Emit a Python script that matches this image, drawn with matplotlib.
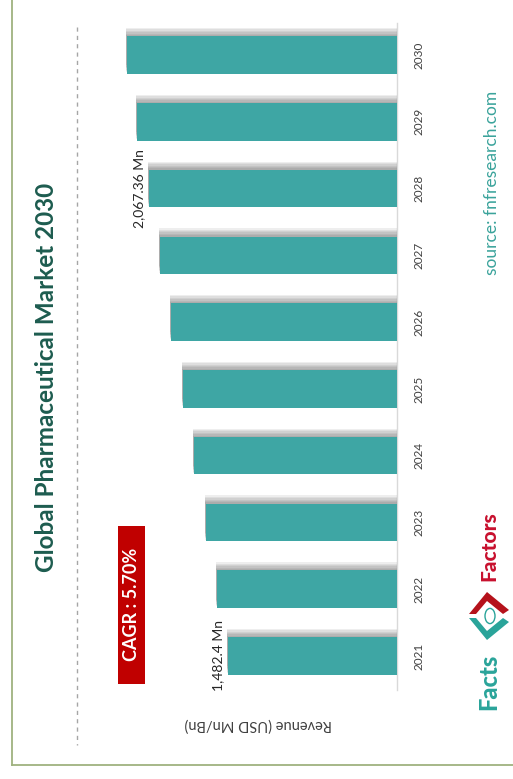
import matplotlib
matplotlib.use("Agg")
import matplotlib.pyplot as plt
import matplotlib.patheffects as pe
from matplotlib.patches import Rectangle, Polygon, Circle

plt.rcParams['font.family'] = ['Lato', 'DejaVu Sans']

years = ['2021', '2022', '2023', '2024', '2025', '2026', '2027', '2028', '2029', '2030']
revenue = [1482.4, 1564, 1645, 1734, 1815, 1904, 1986, 2067.36, 2156, 2230]
labels = {'2021': '1,482.4 Mn', '2028': '2,067.36 Mn'}
title = 'Global Pharmaceutical Market 2030'
cagr = 'CAGR : 5.70%'
axis_label = 'Revenue (USD Mn/Bn)'
source = 'source: fnfresearch.com'

W, H = 513, 779
fig = plt.figure(figsize=(W / 100, H / 100), dpi=100)
fig.patch.set_facecolor('white')

def fx(px):
    return px / W

def fy(py):
    return 1 - py / H

# main axes: baseline on the right, bars growing leftwards
ax = fig.add_axes([fx(75), fy(690), fx(397) - fx(75), fy(23) - fy(690)])
pos = list(range(len(years)))
bars = ax.barh(pos, revenue, height=0.56, color='#3ea6a4', zorder=3)
shadow = [pe.SimplePatchShadow(offset=(-1, k), shadow_rgbFace='#444444', alpha=0.09) for k in (1, 2, 3, 4, 5, 6)]
for b in bars:
    b.set_path_effects(shadow + [pe.Normal()])
ax.set_xlim(2615, 231)
ax.set_ylim(-0.51, 9.48)
for s in ['top', 'left', 'bottom']:
    ax.spines[s].set_visible(False)
ax.spines['right'].set_color('#d9d9d9')
ax.spines['right'].set_linewidth(1.0)
ax.set_xticks([])
ax.yaxis.tick_right()
ax.set_yticks(pos)
ax.set_yticklabels(years, rotation=90, va='center', fontsize=8.5, color='#404040')
ax.tick_params(axis='y', length=0, pad=12)
ax.patch.set_alpha(0)

for i, y in enumerate(years):
    if y in labels:
        ax.text(revenue[i] + 25, i, labels[y], rotation=90, ha='right', va='center',
                fontsize=10, color='#262626')

# title
fig.text(fx(47), fy(377), title, rotation=90, ha='center', va='center',
         fontsize=17.5, fontweight='bold', color='#1d5c4f')

# dashed line
fig.add_artist(plt.Line2D([fx(77), fx(77)], [fy(27), fy(745)], color='#a6a6a6',
                          linestyle=(0, (3, 3)), linewidth=1.0))

# CAGR box
fig.add_artist(Rectangle((fx(118), fy(684)), fx(145) - fx(118), fy(526) - fy(684),
                         transform=fig.transFigure, facecolor='#c00000', edgecolor='none'))
fig.text(fx(131.5), fy(604), cagr, rotation=90, ha='center', va='center',
         fontsize=13, fontweight='bold', color='white')

# axis label (upside down)
fig.text(fx(258), fy(724), axis_label, rotation=180, ha='center', va='center',
         fontsize=10.5, color='#404040')

# source
fig.text(fx(492), fy(183), source, rotation=90, ha='center', va='center',
         fontsize=12.5, color='#3aa39b')

# logo
fig.text(fx(489), fy(682), 'Facts', rotation=90, ha='center', va='center',
         fontsize=17, fontweight='black', color='#2aa49a')
fig.text(fx(489), fy(546), 'Factors', rotation=90, ha='center', va='center',
         fontsize=15, fontweight='black', color='#c8102e')
lx, ly = 489, 616
fig.add_artist(Polygon([(fx(lx - 20), fy(ly - 2)), (fx(lx - 2), fy(ly - 24)), (fx(lx + 20), fy(ly - 6)),
                        (fx(lx + 14), fy(ly - 2)), (fx(lx - 2), fy(ly - 15)), (fx(lx - 13), fy(ly - 2))],
                       closed=True, transform=fig.transFigure, facecolor='#b5121b', edgecolor='none'))
fig.add_artist(Polygon([(fx(lx - 20), fy(ly + 2)), (fx(lx - 2), fy(ly + 24)), (fx(lx + 20), fy(ly + 6)),
                        (fx(lx + 14), fy(ly + 2)), (fx(lx - 2), fy(ly + 15)), (fx(lx - 13), fy(ly + 2))],
                       closed=True, transform=fig.transFigure, facecolor='#2aa49a', edgecolor='none'))
fig.add_artist(Circle((fx(lx + 1), fy(ly)), 5 / W, transform=fig.transFigure,
                      facecolor='white', edgecolor='#2aa49a', linewidth=1))

# border
fig.add_artist(plt.Line2D([fx(12), fx(12)], [fy(0), fy(765)], color='#9fb27f', linewidth=1.3))
fig.add_artist(plt.Line2D([fx(12), fx(513)], [fy(765), fy(765)], color='#9fb27f', linewidth=1.3))

fig.savefig('out.png', dpi=100, facecolor='white')
